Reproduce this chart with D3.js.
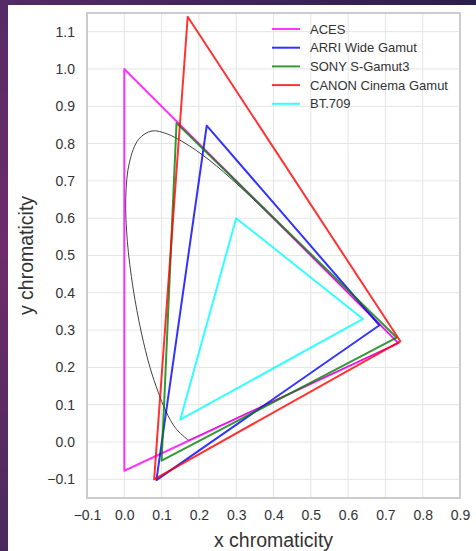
<!DOCTYPE html>
<html>
<head>
<meta charset="utf-8">
<script src="https://cdn.jsdelivr.net/npm/d3@7"></script>
<style>
  html, body { margin: 0; padding: 0; background: #fff; }
  svg { display: block; font-family: Arial, "Liberation Sans", sans-serif; }
</style>
</head>
<body>
<svg id="chart" width="476" height="551"></svg>
<script>
// gamut primaries [x, y] for R, G, B
const gamutNames = ["ACES", "ARRI Wide Gamut", "SONY S-Gamut3", "CANON Cinema Gamut", "BT.709"];
const gamutColors = ["#ff00ff", "#0000ff", "#008000", "#ff0000", "#00ffff"];
const gamutPrimaries = [
    [[0.7347, 0.2653], [0.0, 1.0], [0.0001, -0.077]],
    [[0.684, 0.313], [0.221, 0.848], [0.0861, -0.102]],
    [[0.73, 0.28], [0.14, 0.855], [0.10, -0.05]],
    [[0.74, 0.27], [0.17, 1.14], [0.08, -0.10]],
    [[0.64, 0.33], [0.30, 0.60], [0.15, 0.06]]
];

// CIE 1931 spectral locus, 380-700nm every 5nm
const locusX = [0.1741, 0.1740, 0.1738, 0.1736, 0.1733, 0.1730, 0.1726, 0.1721, 0.1714, 0.1703,
    0.1689, 0.1669, 0.1644, 0.1611, 0.1566, 0.1510, 0.1440, 0.1355, 0.1241, 0.1096,
    0.0913, 0.0687, 0.0454, 0.0235, 0.0082, 0.0039, 0.0139, 0.0389, 0.0743, 0.1142,
    0.1547, 0.1929, 0.2296, 0.2658, 0.3016, 0.3373, 0.3731, 0.4087, 0.4441, 0.4788,
    0.5125, 0.5448, 0.5752, 0.6029, 0.6270, 0.6482, 0.6658, 0.6801, 0.6915, 0.7006,
    0.7079, 0.7140, 0.7190, 0.7230, 0.7260, 0.7283, 0.7300, 0.7311, 0.7320, 0.7327,
    0.7334, 0.7340, 0.7344, 0.7346, 0.7347];
const locusY = [0.0050, 0.0050, 0.0049, 0.0049, 0.0048, 0.0048, 0.0048, 0.0048, 0.0051, 0.0058,
    0.0069, 0.0086, 0.0109, 0.0138, 0.0177, 0.0227, 0.0297, 0.0399, 0.0578, 0.0868,
    0.1327, 0.2007, 0.2950, 0.4127, 0.5384, 0.6548, 0.7502, 0.8120, 0.8338, 0.8262,
    0.8059, 0.7816, 0.7543, 0.7243, 0.6923, 0.6589, 0.6245, 0.5896, 0.5547, 0.5202,
    0.4866, 0.4544, 0.4242, 0.3965, 0.3725, 0.3514, 0.3340, 0.3197, 0.3083, 0.2993,
    0.2920, 0.2859, 0.2809, 0.2770, 0.2740, 0.2717, 0.2700, 0.2689, 0.2680, 0.2673,
    0.2666, 0.2660, 0.2656, 0.2654, 0.2653];

const xTicks = [-0.1, 0.0, 0.1, 0.2, 0.3, 0.4, 0.5, 0.6, 0.7, 0.8, 0.9];
const yTicks = [-0.1, 0.0, 0.1, 0.2, 0.3, 0.4, 0.5, 0.6, 0.7, 0.8, 0.9, 1.0, 1.1];

const svg = d3.select("#chart");
const W = 476, H = 551;
const plot = {left: 87, right: 460, top: 13, bottom: 498};

// purple backdrop strips
const defs = svg.append("defs");
const gl = defs.append("linearGradient").attr("id", "leftgrad")
    .attr("x1", "0%").attr("y1", "0%").attr("x2", "0%").attr("y2", "100%");
gl.append("stop").attr("offset", "0%").attr("stop-color", "#552a66");
gl.append("stop").attr("offset", "45%").attr("stop-color", "#6e2c6b");
gl.append("stop").attr("offset", "100%").attr("stop-color", "#4a2a5c");
const gt = defs.append("linearGradient").attr("id", "topgrad")
    .attr("x1", "0%").attr("y1", "0%").attr("x2", "100%").attr("y2", "0%");
gt.append("stop").attr("offset", "0%").attr("stop-color", "#552a66");
gt.append("stop").attr("offset", "100%").attr("stop-color", "#2b1f4b");
svg.append("rect").attr("x", 0).attr("y", 0).attr("width", 8).attr("height", H).attr("fill", "url(#leftgrad)");
svg.append("rect").attr("x", 0).attr("y", 0).attr("width", W).attr("height", 5).attr("fill", "url(#topgrad)");

const x = d3.scaleLinear().domain([-0.1, 0.9]).range([plot.left, plot.right]);
const y = d3.scaleLinear().domain([-0.15, 1.15]).range([plot.bottom, plot.top]);

// grid
const grid = svg.append("g");
grid.selectAll(".gx").data(xTicks).enter().append("line")
    .attr("x1", d => x(d)).attr("x2", d => x(d))
    .attr("y1", plot.top).attr("y2", plot.bottom)
    .attr("stroke", "#e5e5e5").attr("stroke-width", 1);
grid.selectAll(".gy").data(yTicks).enter().append("line")
    .attr("x1", plot.left).attr("x2", plot.right)
    .attr("y1", d => y(d)).attr("y2", d => y(d))
    .attr("stroke", "#e5e5e5").attr("stroke-width", 1);

const fmt = d => d3.format(".1f")(d).replace("-", "\u2212");

// axes (labels only, no tick marks)
const xAxis = svg.append("g")
    .attr("transform", "translate(0," + plot.bottom + ")")
    .call(d3.axisBottom(x).tickValues(xTicks).tickFormat(fmt).tickSize(0).tickPadding(12));
const yAxis = svg.append("g")
    .attr("transform", "translate(" + plot.left + ",0)")
    .call(d3.axisLeft(y).tickValues(yTicks).tickFormat(fmt).tickSize(0).tickPadding(12));
[xAxis, yAxis].forEach(a => {
    a.select(".domain").remove();
    a.selectAll("text").attr("fill", "#333").style("font-size", "14px");
});

// spectral locus, closed by the line of purples
const locus = locusX.map((v, i) => [v, locusY[i]]);
svg.append("path")
    .attr("d", d3.line().x(d => x(d[0])).y(d => y(d[1])).curve(d3.curveCatmullRom)(locus) + "Z")
    .attr("fill", "none").attr("stroke", "#444").attr("stroke-width", 1);

// gamut triangles
const tri = d3.line().x(d => x(d[0])).y(d => y(d[1]));
gamutPrimaries.forEach((p, i) => {
    svg.append("path")
        .attr("d", tri(p) + "Z")
        .attr("fill", "none")
        .attr("stroke", gamutColors[i])
        .attr("stroke-opacity", 0.8)
        .attr("stroke-width", 2)
        .attr("stroke-linejoin", "round");
});

// frame
svg.append("rect")
    .attr("x", plot.left).attr("y", plot.top)
    .attr("width", plot.right - plot.left).attr("height", plot.bottom - plot.top)
    .attr("fill", "none").attr("stroke", "#cccccc").attr("stroke-width", 2);

// legend
const legend = svg.append("g").attr("transform", "translate(272,29)");
gamutNames.forEach((name, i) => {
    const row = legend.append("g").attr("transform", "translate(0," + (i * 18.7) + ")");
    row.append("line").attr("x1", 0).attr("x2", 28).attr("y1", 0).attr("y2", 0)
        .attr("stroke", gamutColors[i]).attr("stroke-opacity", 0.8).attr("stroke-width", 2);
    row.append("text").attr("x", 38).attr("y", 0).attr("dy", "0.35em")
        .attr("fill", "#333").style("font-size", "13px").text(name);
});

// axis titles
svg.append("text")
    .attr("x", (plot.left + plot.right) / 2).attr("y", 547)
    .attr("text-anchor", "middle").attr("fill", "#333")
    .style("font-size", "19.5px").text("x chromaticity");
svg.append("text")
    .attr("transform", "translate(33," + ((plot.top + plot.bottom) / 2) + ") rotate(-90)")
    .attr("text-anchor", "middle").attr("fill", "#333")
    .style("font-size", "19.5px").text("y chromaticity");
</script>
</body>
</html>
